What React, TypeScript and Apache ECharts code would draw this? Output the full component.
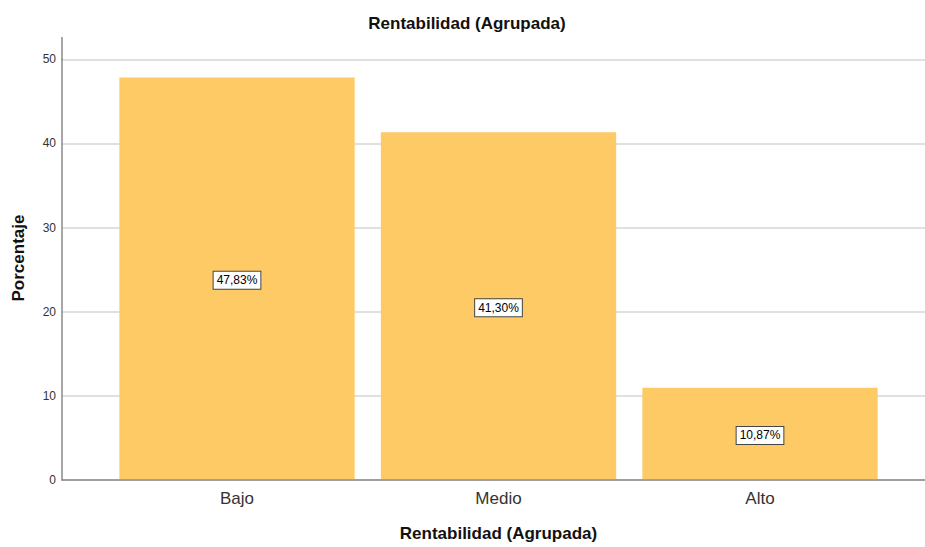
import React, { useEffect, useRef } from "react";
import * as echarts from "echarts";

const categories = ["Bajo", "Medio", "Alto"];
const percentages = [47.83, 41.3, 10.87];
const chartTitle = "Rentabilidad (Agrupada)";
const xAxisTitle = "Rentabilidad (Agrupada)";
const yAxisTitle = "Porcentaje";

const FONT = "'Liberation Sans', Arial, sans-serif";

export default function App() {
  const ref = useRef<HTMLDivElement>(null);
  useEffect(() => {
    if (!ref.current) return;
    const chart = echarts.init(ref.current, undefined, { renderer: "svg" });
    chart.setOption({
      animation: false,
      backgroundColor: "#ffffff",
      textStyle: { fontFamily: FONT },
      title: {
        text: chartTitle,
        left: 467,
        top: 15,
        padding: 0,
        textAlign: "center",
        textStyle: { fontSize: 17, fontWeight: "bold", color: "#111", fontFamily: FONT },
      },
      grid: [
        { left: 62, right: 0, top: 59.3, bottom: 67 },
        { left: 106.25, right: 34.25, top: 59.3, bottom: 67 },
      ],
      xAxis: [
        {
          type: "value",
          gridIndex: 0,
          min: 0,
          max: 1,
          axisLine: { show: true, lineStyle: { color: "#8a8a8a", width: 1.5 } },
          axisTick: { show: false },
          axisLabel: { show: false },
          splitLine: { show: false },
        },
        {
          type: "category",
          gridIndex: 1,
          data: categories,
          axisLine: { show: false },
          axisTick: { show: false },
          axisLabel: { fontSize: 17, color: "#333", margin: 11, fontFamily: FONT },
          name: xAxisTitle,
          nameLocation: "middle",
          nameGap: 46,
          nameTextStyle: { fontSize: 17, fontWeight: "bold", color: "#111", fontFamily: FONT },
        },
      ],
      yAxis: [
        {
          type: "value",
          gridIndex: 0,
          min: 0,
          max: 50,
          interval: 10,
          axisLine: { show: true, lineStyle: { color: "#8a8a8a", width: 1.5 } },
          axisTick: { show: false },
          axisLabel: { fontSize: 12, color: "#333", margin: 6, fontFamily: FONT },
          splitLine: { show: true, lineStyle: { color: "#d6d6d6", width: 1.5 } },
        },
        {
          type: "value",
          gridIndex: 1,
          min: 0,
          max: 50,
          show: false,
          splitLine: { show: false },
        },
      ],
      graphic: [
        {
          type: "line",
          shape: { x1: 62, y1: 37, x2: 62, y2: 60 },
          style: { stroke: "#8a8a8a", lineWidth: 1.5 },
        },
        {
          type: "text",
          x: 18,
          y: 258,
          rotation: Math.PI / 2,
          style: {
            text: yAxisTitle,
            fontSize: 17,
            fontWeight: "bold",
            fill: "#111",
            fontFamily: FONT,
            align: "center",
            verticalAlign: "middle",
          },
        },
      ],
      series: [
        {
          type: "bar",
          xAxisIndex: 1,
          yAxisIndex: 1,
          data: percentages,
          barWidth: 235.3,
          itemStyle: { color: "#FDCA66" },
          label: {
            show: true,
            position: "inside",
            offset: [0, 2],
            formatter: (p: any) => p.value.toFixed(2).replace(".", ",") + "%",
            color: "#000",
            fontSize: 12,
            fontFamily: FONT,
            backgroundColor: "#ffffff",
            borderColor: "#444",
            borderWidth: 1,
            padding: [3, 3, 2, 3],
          },
        },
      ],
    });
    return () => chart.dispose();
  }, []);
  return (
    <div
      ref={ref}
      style={{ position: "absolute", left: 0, top: 0, width: 925, height: 547 }}
    />
  );
}
